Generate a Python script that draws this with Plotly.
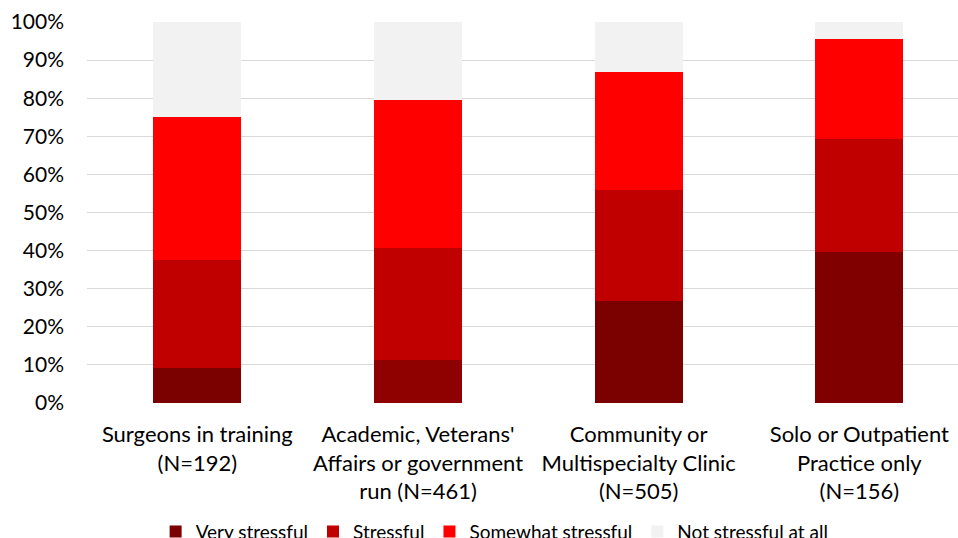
import plotly.graph_objects as go

categories = [
    "Surgeons in training<br>(N=192)",
    "Academic, Veterans'<br>Affairs or government<br>run (N=461)",
    "Community or<br>Multispecialty Clinic<br>(N=505)",
    "Solo or Outpatient<br>Practice only<br>(N=156)",
]
series_names = ["Very stressful", "Stressful", "Somewhat stressful", "Not stressful at all"]
very_stressful = [9.3, 11.4, 26.7, 39.6]
stressful = [28.2, 29.2, 29.2, 29.7]
somewhat_stressful = [37.5, 38.8, 31.1, 26.2]
not_stressful = [25.0, 20.6, 13.0, 4.5]
y_ticks = [0, 10, 20, 30, 40, 50, 60, 70, 80, 90, 100]
y_tick_labels = [f"{v}%" for v in y_ticks]

series_values = [very_stressful, stressful, somewhat_stressful, not_stressful]
series_colors = [
    ["#7B0000", "#8F0000", "#7B0000", "#800000"],
    "#C00000",
    "#FF0000",
    "#F2F2F2",
]

FONT = "Lato, 'Open Sans', sans-serif"

fig = go.Figure()
for name, vals, col in zip(series_names, series_values, series_colors):
    fig.add_trace(go.Bar(
        x=categories, y=vals, name=name,
        marker=dict(color=col, line=dict(width=0)),
        width=0.4,
    ))

fig.update_layout(
    barmode="stack",
    width=958, height=538,
    margin=dict(l=87, r=0, t=22, b=135, autoexpand=False),
    plot_bgcolor="white", paper_bgcolor="white",
    font=dict(family=FONT, size=22, color="#000000"),
    showlegend=True,
    legend=dict(
        orientation="h", x=0.468, xanchor="center",
        yref="container", y=0.012, yanchor="middle",
        font=dict(size=19, color="#000000"),
        traceorder="normal",
    ),
    xaxis=dict(
        range=[-0.5, 3.447], showgrid=False, showline=False, zeroline=False,
        ticks="", tickfont=dict(size=22), tickangle=0, ticklabelstandoff=16,
    ),
    yaxis=dict(
        range=[0, 100], tickvals=y_ticks, ticktext=y_tick_labels,
        showgrid=True, gridcolor="#D9D9D9", gridwidth=1,
        zeroline=False, showline=False, ticks="",
        tickfont=dict(size=21), ticklabelstandoff=22,
    ),
)

fig.write_html("out.html")
